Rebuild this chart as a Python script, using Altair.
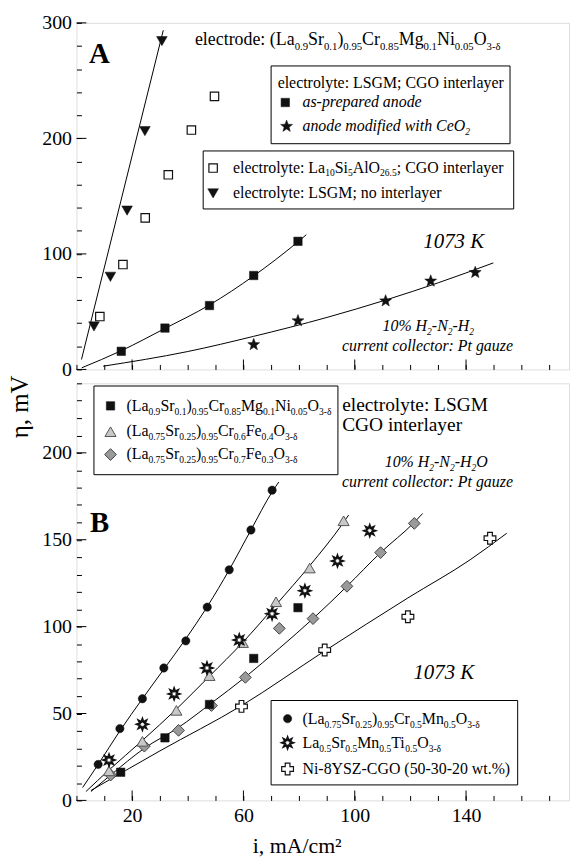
import re
import math
import altair as alt
import pandas as pd

FONT = "Liberation Serif, DejaVu Serif, serif"

# ---------------- Panel A data ----------------
a_tri_x = [6.3, 12.2, 18.2, 24.6, 30.7]
a_tri_y = [37.2, 80.2, 137.5, 206.3, 284.2]
a_tri_fit_x = [1.8, 31.2]
a_tri_fit_y = [8.6, 293.6]

a_open_x = [8.4, 16.7, 24.7, 33.0, 41.3, 49.6]
a_open_y = [45.8, 90.8, 131.2, 168.5, 207.2, 236.4]

a_sq_x = [16.1, 31.8, 47.8, 63.7, 79.6]
a_sq_y = [15.7, 35.8, 55.3, 81.3, 110.9]
a_sq_fit_x = [1.9, 16.1, 31.8, 47.8, 63.7, 79.6, 82.6]
a_sq_fit_y = [1.4, 16.2, 35.5, 55.8, 81.0, 110.5, 116.6]

a_star_x = [63.7, 79.6, 111.1, 127.3, 143.3]
a_star_y = [21.5, 42.1, 59.3, 76.5, 83.9]
a_star_fit_x = [9.6, 40.0, 63.6, 90.0, 111.3, 130.0, 149.8]
a_star_fit_y = [2.8, 15.5, 28.6, 45.0, 60.2, 75.0, 92.2]

# ---------------- Panel B data ----------------
b_circ_x = [7.8, 15.6, 23.7, 31.4, 39.3, 47.0, 54.9, 62.7, 70.3]
b_circ_y = [20.7, 41.3, 58.5, 76.2, 91.8, 111.2, 132.7, 155.6, 178.5]
b_circ_fit_x = [2.2, 7.8, 15.6, 23.7, 31.4, 39.3, 47.0, 54.9, 62.7, 70.3, 72.7]
b_circ_fit_y = [7.4, 20.7, 40.0, 58.5, 75.5, 93.0, 111.5, 132.7, 155.6, 177.5, 183.2]

b_ast_x = [11.7, 23.7, 35.1, 46.9, 58.5, 70.3, 82.1, 93.8, 105.4]
b_ast_y = [23.2, 43.8, 61.3, 76.2, 92.3, 107.4, 120.7, 137.8, 155.2]

b_tri_x = [11.7, 23.7, 35.9, 47.8, 59.8, 71.7, 83.8, 96.0]
b_tri_y = [17.0, 34.0, 51.8, 71.8, 90.8, 114.3, 133.7, 160.9]
b_tri_fit_x = [3.4, 11.7, 23.7, 35.9, 47.8, 59.8, 71.7, 83.8, 96.0, 97.8]
b_tri_fit_y = [5.1, 17.5, 34.5, 52.5, 71.5, 91.0, 112.5, 135.0, 160.0, 164.2]

b_sq_x = [15.9, 31.8, 47.8, 63.7, 79.6]
b_sq_y = [16.2, 36.0, 55.2, 81.7, 110.9]

b_dia_x = [12.3, 24.4, 36.7, 48.5, 60.7, 72.9, 85.0, 97.2, 109.3, 121.4]
b_dia_y = [14.6, 31.2, 40.3, 54.6, 70.8, 99.0, 104.6, 123.2, 142.6, 159.4]
b_dia_fit_x = [5.2, 12.3, 24.4, 36.7, 48.5, 60.7, 72.9, 85.0, 97.2, 109.3, 121.4, 124.4]
b_dia_fit_y = [5.1, 14.6, 30.0, 42.0, 56.0, 71.0, 87.5, 104.6, 123.2, 142.6, 160.0, 165.1]

b_cross_x = [59.3, 89.2, 119.1, 148.6]
b_cross_y = [54.1, 86.5, 105.7, 150.9]
b_cross_fit_x = [5.2, 30.0, 59.3, 89.2, 119.1, 141.5, 154.6]
b_cross_fit_y = [5.7, 28.5, 54.5, 86.0, 116.5, 138.5, 153.7]

# axis ticks (minor everywhere, major where labelled)
x_ticks = list(range(0, 171, 10))
x_major = [20, 60, 100, 140]
ya_ticks = list(range(0, 301, 20))
ya_major = [0, 100, 200, 300]
yb_ticks = list(range(0, 241, 10))
yb_major = [0, 50, 100, 150, 200]

# ---------------- layout ----------------
XMAX = 177
W = 496
HA, HB = 349, 420
SPACING = 14
OX = 75.7
OYA = 19.3
OYB = OYA + HA + SPACING
MAJOR_LEN = 10

# ---------------- symbol shapes ----------------
def star_path(n, r_in):
    pts = []
    for k in range(2 * n):
        r = 1.0 if k % 2 == 0 else r_in
        ang = -math.pi / 2 + k * math.pi / n
        pts.append((r * math.cos(ang), r * math.sin(ang)))
    return "M" + "L".join(f"{x:.3f},{y:.3f}" for x, y in pts) + "Z"

STAR5 = star_path(5, 0.42)
STAR8 = star_path(8, 0.5)

SYM = {
    "sq": dict(shape="square", size=72, fill="#111111", stroke="#111111", strokeWidth=0.5),
    "osq": dict(shape="square", size=72, fill="white", stroke="#111111", strokeWidth=1.2),
    "tri_dn": dict(shape="triangle-down", size=115, fill="#111111", stroke="#111111", strokeWidth=0.5),
    "star": dict(shape=STAR5, size=160, fill="#111111", stroke="#111111", strokeWidth=0.5),
    "circ": dict(shape="circle", size=70, fill="#111111", stroke="#111111", strokeWidth=0.5),
    "ast": dict(shape=STAR8, size=120, fill="white", stroke="#111111", strokeWidth=2),
    "tri_up": dict(shape="triangle-up", size=125, fill="#c8c8c8", stroke="#555555", strokeWidth=1),
    "dia": dict(shape="diamond", size=140, fill="#9a9a9a", stroke="#444444", strokeWidth=1),
    "cross": dict(shape="cross", size=140, fill="white", stroke="#111111", strokeWidth=1.2),
}

ROM = {' ': 250, '(': 333, ')': 333, '%': 833, '-': 333, '.': 250, ':': 278, ';': 278,
       ',': 250, '/': 278, 'A': 722, 'B': 667, 'C': 667, 'D': 722, 'E': 611, 'F': 556,
       'G': 722, 'H': 722, 'I': 333, 'K': 722, 'L': 611, 'M': 889, 'N': 722, 'O': 722,
       'P': 556, 'R': 667, 'S': 556, 'T': 611, 'U': 722, 'V': 722, 'W': 944, 'X': 722,
       'Y': 722, 'Z': 611, 'a': 444, 'b': 500, 'c': 444, 'd': 500, 'e': 444, 'f': 333,
       'g': 500, 'h': 500, 'i': 278, 'j': 278, 'k': 500, 'l': 278, 'm': 778, 'n': 500,
       'o': 500, 'p': 500, 'r': 333, 's': 389, 't': 278, 'u': 500, 'v': 500, 'w': 722,
       'x': 500, 'y': 500, 'z': 444, 'δ': 480, '²': 300}
ITA = {' ': 250, '%': 833, '-': 333, '.': 250, ':': 333, 'A': 611, 'C': 667, 'G': 722,
       'H': 722, 'K': 667, 'N': 667, 'O': 722, 'P': 611, 'a': 500, 'c': 444, 'd': 500,
       'e': 444, 'f': 278, 'g': 500, 'h': 500, 'i': 278, 'l': 278, 'm': 722, 'n': 500,
       'o': 500, 'p': 500, 'r': 389, 's': 389, 't': 278, 'u': 500, 'w': 667, 'y': 444,
       'z': 389}

FS = 16
SUB = 0.6


def rich(markup, x0, y0, oy, fs=FS, italic=False, anchor="left", sub=SUB):
    tab = ITA if italic else ROM
    segs = []
    for p in re.split(r'(_\{[^}]*\})', markup):
        if not p:
            continue
        if p.startswith('_{'):
            segs.append((p[2:-1], fs * sub, fs * 0.25))
        else:
            segs.append((p, fs, 0.0))
    wid = lambda t, s: sum(tab.get(c, 500) for c in t) / 1000.0 * s
    total = sum(wid(t, s) for t, s, d in segs)
    x = x0 - (total / 2 if anchor == "center" else total if anchor == "right" else 0)
    rows = []
    for t, s, d in segs:
        rows.append({"px": x - OX, "py": y0 + d - oy, "text": t, "size": s})
        x += wid(t, s)
    return rows


def text_layer(rows, italic=False, bold=False, angle=None, align="left", baseline="alphabetic"):
    kw = dict(align=align, baseline=baseline, font=FONT, color="black")
    if italic:
        kw["fontStyle"] = "italic"
    if bold:
        kw["fontWeight"] = "bold"
    if angle is not None:
        kw["angle"] = angle
    return alt.Chart(pd.DataFrame(rows)).mark_text(**kw).encode(
        x=alt.X("px:Q", scale=None, axis=None),
        y=alt.Y("py:Q", scale=None, axis=None),
        text="text:N",
        size=alt.Size("size:Q", scale=None, legend=None),
    )


ONE = pd.DataFrame({"k": [0]})


def box(x1, x2, y1, y2, oy):
    return alt.Chart(ONE).mark_rect(fill="white", stroke="black", strokeWidth=1).encode(
        x=alt.value(x1 - OX), x2=alt.value(x2 - OX), y=alt.value(y1 - oy), y2=alt.value(y2 - oy))


def leg_sym(kind, px, py, oy):
    return alt.Chart(ONE).mark_point(filled=True, opacity=1, **SYM[kind]).encode(
        x=alt.value(px - OX), y=alt.value(py - oy))


def pts_layer(xs, ys, X, Y, kind):
    return alt.Chart(pd.DataFrame({"x": xs, "y": ys})).mark_point(
        filled=True, opacity=1, **SYM[kind]).encode(x=X, y=Y)


def fit_layer(xs, ys, X, Y):
    return alt.Chart(pd.DataFrame({"x": xs, "y": ys})).mark_line(
        color="black", strokeWidth=1, interpolate="monotone").encode(x=X, y=Y)


def major_x(vals, X, h):
    return alt.Chart(pd.DataFrame({"x": vals})).mark_rule(color="black", strokeWidth=1).encode(
        x=X, y=alt.value(h), y2=alt.value(h - MAJOR_LEN))


def major_y(vals, Y):
    return alt.Chart(pd.DataFrame({"y": vals})).mark_rule(color="black", strokeWidth=1).encode(
        y=Y, x=alt.value(0), x2=alt.value(MAJOR_LEN))


def axis(values, expr, labels=True):
    return alt.Axis(values=values, labelExpr=expr, labels=labels, tickSize=5, offset=-5,
                    domain=False, grid=False, ticks=True, tickColor="black", tickWidth=1,
                    labelFont=FONT, labelFontSize=20, labelColor="black", labelPadding=5,
                    labelFlush=False, labelOverlap=False, title=None)


x_scale = alt.Scale(domain=[0, XMAX], nice=False, zero=False)

# ---------------- Panel A ----------------
XA = alt.X("x:Q", scale=x_scale, axis=axis(x_ticks, "''", labels=False))
YA = alt.Y("y:Q", scale=alt.Scale(domain=[0, 300], nice=False),
           axis=axis(ya_ticks, "datum.value % 100 == 0 ? datum.label : ''"))

layers_a = [
    fit_layer(a_tri_fit_x, a_tri_fit_y, XA, YA),
    fit_layer(a_sq_fit_x, a_sq_fit_y, XA, YA),
    fit_layer(a_star_fit_x, a_star_fit_y, XA, YA),
    major_x(x_major, XA, HA),
    major_y(ya_major, YA),
    pts_layer(a_tri_x, a_tri_y, XA, YA, "tri_dn"),
    pts_layer(a_open_x, a_open_y, XA, YA, "osq"),
    pts_layer(a_sq_x, a_sq_y, XA, YA, "sq"),
    pts_layer(a_star_x, a_star_y, XA, YA, "star"),
    # invisible anchor at the page corner
    alt.Chart(ONE).mark_rect(opacity=0).encode(
        x=alt.value(-OX), x2=alt.value(-OX + 1), y=alt.value(-OYA), y2=alt.value(-OYA + 1)),
    box(271.7, 512.3, 62.7, 141.0, OYA),
    box(203.3, 516.0, 148.3, 206.7, OYA),
    leg_sym("sq", 286.0, 99.5, OYA),
    leg_sym("star", 287.3, 123.5, OYA),
    leg_sym("osq", 213.3, 165.5, OYA),
    leg_sym("tri_dn", 213.3, 191.0, OYA),
]

rows_a = []
rows_a += rich("electrode: (La_{0.9}Sr_{0.1})_{0.95}Cr_{0.85}Mg_{0.1}Ni_{0.05}O_{3-δ}", 195, 42, OYA, fs=18)
rows_a += rich("electrolyte: LSGM; CGO interlayer", 278.3, 85, OYA)
rows_a += rich("electrolyte: La_{10}Si_{5}AlO_{26.5}; CGO interlayer", 233.3, 170, OYA)
rows_a += rich("electrolyte: LSGM; no interlayer", 233.3, 196, OYA)
rows_a_it = []
rows_a_it += rich("as-prepared anode", 303.3, 104, OYA, italic=True)
rows_a_it += rich("anode modified with CeO_{2}", 303.3, 128, OYA, italic=True)
rows_a_it += rich("1073 K", 425, 245.7, OYA, fs=21, italic=True)
rows_a_it += rich("10% H_{2}-N_{2}-H_{2}", 430, 330, OYA, italic=True, anchor="center")
rows_a_it += rich("current collector: Pt gauze", 516, 350, OYA, italic=True, anchor="right")
rows_a_b = rich("A", 88.3, 60, OYA, fs=29)

layers_a += [text_layer(rows_a), text_layer(rows_a_it, italic=True), text_layer(rows_a_b, bold=True)]

chart_a = alt.layer(*layers_a).properties(width=W, height=HA)

# ---------------- Panel B ----------------
XB = alt.X("x:Q", scale=x_scale, axis=axis(x_ticks, "(datum.value + 20) % 40 == 0 ? datum.label : ''"))
YB = alt.Y("y:Q", scale=alt.Scale(domain=[0, 240], nice=False),
           axis=axis(yb_ticks, "datum.value % 50 == 0 ? datum.label : ''"))

layers_b = [
    fit_layer(b_circ_fit_x, b_circ_fit_y, XB, YB),
    fit_layer(b_tri_fit_x, b_tri_fit_y, XB, YB),
    fit_layer(b_dia_fit_x, b_dia_fit_y, XB, YB),
    fit_layer(b_cross_fit_x, b_cross_fit_y, XB, YB),
    major_x(x_major, XB, HB),
    major_y(yb_major, YB),
    pts_layer(b_cross_x, b_cross_y, XB, YB, "cross"),
    pts_layer(b_dia_x, b_dia_y, XB, YB, "dia"),
    pts_layer(b_tri_x, b_tri_y, XB, YB, "tri_up"),
    pts_layer(b_sq_x, b_sq_y, XB, YB, "sq"),
    pts_layer(b_ast_x, b_ast_y, XB, YB, "ast"),
    pts_layer(b_circ_x, b_circ_y, XB, YB, "circ"),
    box(93.3, 339.0, 385.0, 474.3, OYB),
    box(271.7, 520.0, 701.7, 786.7, OYB),
    leg_sym("sq", 110, 405, OYB),
    leg_sym("tri_up", 110, 431, OYB),
    leg_sym("dia", 110, 454, OYB),
    leg_sym("circ", 288.3, 720, OYB),
    leg_sym("ast", 288.3, 744.3, OYB),
    leg_sym("cross", 288.3, 770.7, OYB),
]

rows_b = []
rows_b += rich("(La_{0.9}Sr_{0.1})_{0.95}Cr_{0.85}Mg_{0.1}Ni_{0.05}O_{3-δ}", 126, 410, OYB)
rows_b += rich("(La_{0.75}Sr_{0.25})_{0.95}Cr_{0.6}Fe_{0.4}O_{3-δ}", 126, 435, OYB)
rows_b += rich("(La_{0.75}Sr_{0.25})_{0.95}Cr_{0.7}Fe_{0.3}O_{3-δ}", 126, 458.3, OYB)
rows_b += rich("electrolyte: LSGM", 343.3, 410, OYB, fs=19.5)
rows_b += rich("CGO interlayer", 343.3, 430, OYB, fs=19.5)
rows_b += rich("(La_{0.75}Sr_{0.25})_{0.95}Cr_{0.5}Mn_{0.5}O_{3-δ}", 303.3, 725, OYB)
rows_b += rich("La_{0.5}Sr_{0.5}Mn_{0.5}Ti_{0.5}O_{3-δ}", 303.3, 750, OYB)
rows_b += rich("Ni-8YSZ-CGO (50-30-20 wt.%)", 303.3, 776, OYB)
rows_b += rich("i, mA/cm²", 298, 855, OYB, fs=22, anchor="center")
rows_b_it = []
rows_b_it += rich("10% H_{2}-N_{2}-H_{2}O", 438, 466.7, OYB, italic=True, anchor="center")
rows_b_it += rich("current collector: Pt gauze", 516, 486.7, OYB, italic=True, anchor="right")
rows_b_it += rich("1073 K", 415, 680, OYB, fs=21, italic=True)
rows_b_b = rich("B", 89.3, 531.7, OYB, fs=29)
rows_eta = [{"px": 19 - OX, "py": 406 - OYB, "text": "η, mV", "size": 25}]

layers_b += [text_layer(rows_b), text_layer(rows_b_it, italic=True), text_layer(rows_b_b, bold=True),
             text_layer(rows_eta, angle=270, align="center", baseline="middle")]

chart_b = alt.layer(*layers_b).properties(width=W, height=HB)

chart = (
    alt.vconcat(chart_a, chart_b, spacing=SPACING, bounds="flush")
    .properties(padding=0)
    .configure_view(stroke="black", strokeWidth=1)
    .configure(background="white")
)

chart.save("out.html", embed_options={"renderer": "svg", "actions": False})
